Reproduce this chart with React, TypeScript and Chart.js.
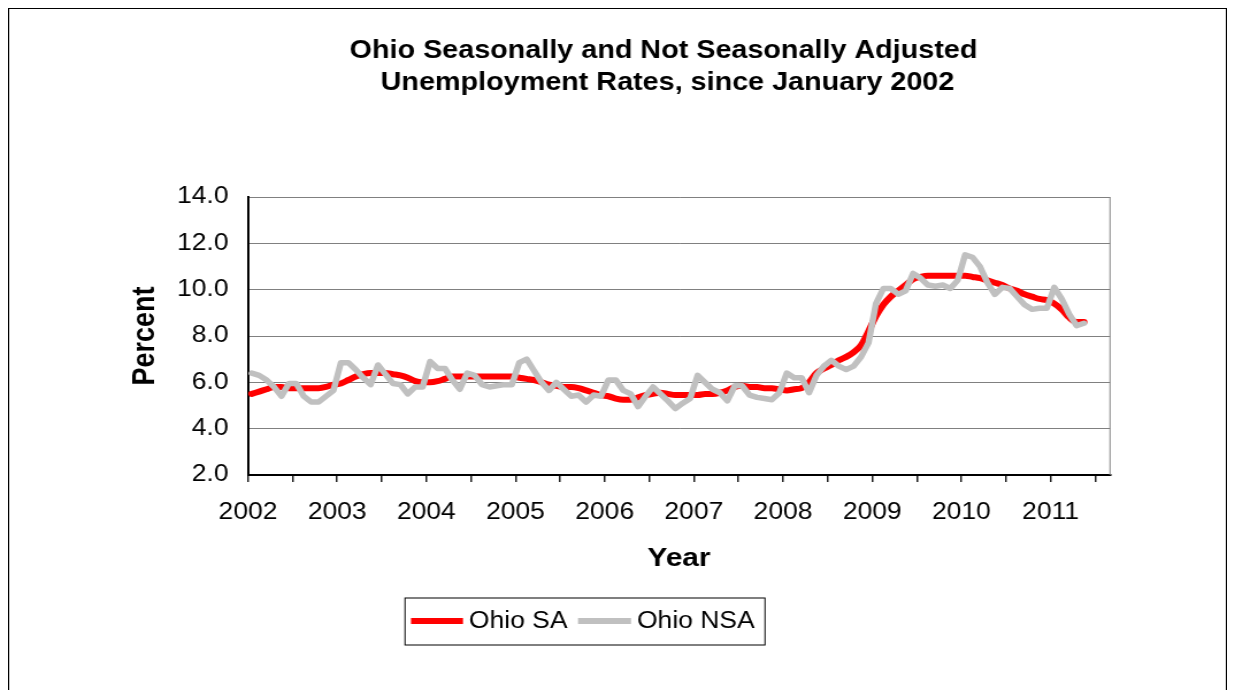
import React, { useEffect, useRef } from 'react';
import { Chart, registerables } from 'chart.js';

Chart.register(...registerables);

// ---------------- data ----------------
const titleLines = [
  'Ohio Seasonally and Not Seasonally Adjusted',
  'Unemployment Rates, since January 2002',
];
const yearLabels = ['2002', '2003', '2004', '2005', '2006', '2007', '2008', '2009', '2010', '2011'];
const seriesNames = ['Ohio SA', 'Ohio NSA'];
const yAxisTitle = 'Percent';
const xAxisTitle = 'Year';

// monthly, Jan 2002 .. May 2011
const saRates = [
  5.5, 5.6, 5.7, 5.8, 5.8, 5.75, 5.75, 5.75, 5.75, 5.75, 5.8, 5.9,
  5.95, 6.1, 6.25, 6.35, 6.4, 6.4, 6.4, 6.35, 6.3, 6.2, 6.05, 6.0,
  6.0, 6.05, 6.15, 6.25, 6.25, 6.25, 6.25, 6.25, 6.25, 6.25, 6.25, 6.25,
  6.2, 6.15, 6.1, 6.0, 5.9, 5.85, 5.8, 5.8, 5.75, 5.65, 5.55, 5.45,
  5.4, 5.3, 5.25, 5.25, 5.35, 5.45, 5.5, 5.55, 5.5, 5.45, 5.45, 5.45,
  5.45, 5.5, 5.5, 5.55, 5.65, 5.8, 5.85, 5.8, 5.8, 5.75, 5.75, 5.7,
  5.65, 5.7, 5.75, 6.0, 6.4, 6.6, 6.75, 6.95, 7.1, 7.3, 7.6, 8.2,
  8.85, 9.35, 9.7, 9.95, 10.2, 10.45, 10.55, 10.6, 10.6, 10.6, 10.6, 10.6,
  10.6, 10.55, 10.5, 10.4, 10.3, 10.2, 10.05, 9.95, 9.8, 9.7, 9.6, 9.55,
  9.4, 9.15, 8.8, 8.6, 8.6,
];
const nsaRates = [
  6.4, 6.3, 6.1, 5.8, 5.4, 5.95, 5.95, 5.4, 5.15, 5.15, 5.4, 5.65,
  6.85, 6.85, 6.55, 6.2, 5.9, 6.75, 6.35, 5.95, 5.9, 5.5, 5.8, 5.8,
  6.9, 6.6, 6.6, 6.1, 5.7, 6.4, 6.3, 5.9, 5.8, 5.85, 5.9, 5.9,
  6.85, 7.0, 6.5, 6.0, 5.65, 6.0, 5.7, 5.4, 5.45, 5.15, 5.45, 5.4,
  6.1, 6.1, 5.65, 5.5, 4.95, 5.4, 5.8, 5.5, 5.2, 4.87, 5.1, 5.3,
  6.3, 6.0, 5.7, 5.55, 5.2, 5.85, 5.85, 5.45, 5.35, 5.3, 5.25, 5.55,
  6.4, 6.2, 6.2, 5.55, 6.3, 6.7, 6.95, 6.7, 6.55, 6.7, 7.1, 7.7,
  9.4, 10.05, 10.05, 9.8, 9.95, 10.7, 10.5, 10.2, 10.15, 10.2, 10.05, 10.4,
  11.5, 11.4, 11.0, 10.3, 9.8, 10.1, 10.05, 9.7, 9.35, 9.15, 9.2, 9.2,
  10.1, 9.6, 8.95, 8.45, 8.55,
];
const monthsOnAxis = 116; // Jan 2002 .. Aug 2011 categories

// ---------------- layout ----------------
const STRETCH = 1.15; // the reference is horizontally stretched
const CSS_W = 1219;
const H = 682;
const BW = Math.round(CSS_W / STRETCH);
const px = (pageX: number) => (pageX - 8) / STRETCH;
const py = (pageY: number) => pageY - 8;

const FONT = '"Liberation Sans", Arial, Helvetica, sans-serif';
const plotLeft = px(248);
const plotRight = px(1110);
const plotTop = py(197);
const plotBottom = py(475);
const xTitleSize = 26;
const yTitleSize = 27;
const yScaleLeft = px(146) - (yTitleSize * 1.2) / 2;
const xScaleBottom = py(559) + (xTitleSize * 1.2) / 2;

const decorPlugin = {
  id: 'decor',
  beforeDatasetsDraw(chart: any) {
    const { ctx, chartArea } = chart;
    ctx.save();
    ctx.strokeStyle = '#808080';
    ctx.lineWidth = 1;
    ctx.beginPath();
    ctx.moveTo(chartArea.right, chartArea.top);
    ctx.lineTo(chartArea.right, chartArea.bottom);
    ctx.stroke();
    ctx.restore();
  },
  afterDraw(chart: any) {
    const { ctx } = chart;
    ctx.save();
    // outer frame
    ctx.strokeStyle = '#000';
    ctx.lineWidth = 1;
    ctx.strokeRect(0.5, 0.5, BW - 1, H + 20);

    // title
    ctx.fillStyle = '#000';
    ctx.font = `bold 25px ${FONT}`;
    ctx.textAlign = 'center';
    ctx.textBaseline = 'alphabetic';
    ctx.fillText(titleLines[0], px(663.5), py(58));
    ctx.fillText(titleLines[1], px(667.5), py(90));

    // legend
    const lx0 = px(405), lx1 = px(765), ly0 = py(598), ly1 = py(645);
    const lyc = py(621);
    ctx.lineWidth = 1;
    ctx.strokeStyle = '#000';
    ctx.strokeRect(lx0, ly0, lx1 - lx0, ly1 - ly0);
    const swatches = [
      { color: '#FF0000', x0: px(411), x1: px(463), tx: px(469), w: 6 },
      { color: '#C0C0C0', x0: px(578), x1: px(631), tx: px(637), w: 6 },
    ];
    ctx.font = `23px ${FONT}`;
    ctx.textAlign = 'left';
    ctx.textBaseline = 'middle';
    swatches.forEach((s, i) => {
      ctx.strokeStyle = s.color;
      ctx.lineWidth = s.w;
      ctx.lineCap = 'butt';
      ctx.beginPath();
      ctx.moveTo(s.x0, lyc);
      ctx.lineTo(s.x1, lyc);
      ctx.stroke();
      ctx.fillStyle = '#000';
      ctx.fillText(seriesNames[i], s.tx, lyc + 1);
    });
    ctx.restore();
  },
};

export default function App() {
  const ref = useRef<HTMLCanvasElement>(null);

  useEffect(() => {
    if (!ref.current) return;
    const chart = new Chart(ref.current, {
      type: 'line',
      data: {
        datasets: [
          {
            label: seriesNames[0],
            data: saRates.map((v, i) => ({ x: i + 0.5, y: v })),
            borderColor: '#FF0000',
            backgroundColor: '#FF0000',
            borderWidth: 6,
            pointRadius: 0,
            cubicInterpolationMode: 'monotone',
            borderCapStyle: 'round',
            borderJoinStyle: 'round',
            order: 1,
          },
          {
            label: seriesNames[1],
            data: nsaRates.map((v, i) => ({ x: i + 0.5, y: v })),
            borderColor: '#C0C0C0',
            backgroundColor: '#C0C0C0',
            borderWidth: 5.5,
            pointRadius: 0,
            tension: 0,
            borderCapStyle: 'round',
            borderJoinStyle: 'round',
            order: 0,
          },
        ],
      },
      options: {
        animation: false,
        responsive: false,
        devicePixelRatio: 1,
        layout: {
          padding: {
            left: yScaleLeft,
            right: BW - plotRight,
            top: plotTop,
            bottom: H - xScaleBottom,
          },
        },
        plugins: {
          legend: { display: false },
          title: { display: false },
          tooltip: { enabled: false },
        },
        scales: {
          x: {
            type: 'linear',
            min: 0,
            max: monthsOnAxis,
            afterFit: (s: any) => {
              s.height = xScaleBottom - plotBottom;
            },
            grid: {
              drawOnChartArea: false,
              drawTicks: true,
              tickLength: 7,
              color: '#222',
              lineWidth: 1.5,
            },
            border: { display: true, color: '#000', width: 2 },
            ticks: {
              stepSize: 6,
              includeBounds: false,
              autoSkip: false,
              maxRotation: 0,
              minRotation: 0,
              padding: 17,
              color: '#000',
              font: { family: FONT, size: 23 },
              callback: (v: any) => (Number(v) % 12 === 0 ? yearLabels[Number(v) / 12] : ''),
            },
            title: {
              display: true,
              text: xAxisTitle,
              color: '#000',
              padding: 0,
              font: { family: FONT, size: xTitleSize, weight: 'bold' },
            },
          },
          y: {
            min: 2,
            max: 14,
            afterFit: (s: any) => {
              s.width = plotLeft - yScaleLeft;
            },
            grid: { color: '#808080', lineWidth: 1, drawTicks: false },
            border: { display: true, color: '#000', width: 2 },
            ticks: {
              stepSize: 2,
              padding: 17,
              color: '#000',
              font: { family: FONT, size: 23 },
              callback: (v: any) => Number(v).toFixed(1),
            },
            title: {
              display: true,
              text: yAxisTitle,
              color: '#000',
              padding: 0,
              font: { family: FONT, size: yTitleSize, weight: 'bold' },
            },
          },
        },
      } as any,
      plugins: [decorPlugin],
    });
    return () => chart.destroy();
  }, []);

  return (
    <canvas
      ref={ref}
      width={BW}
      height={H}
      style={{ display: 'block', width: `${CSS_W}px`, height: `${H}px` }}
    />
  );
}
